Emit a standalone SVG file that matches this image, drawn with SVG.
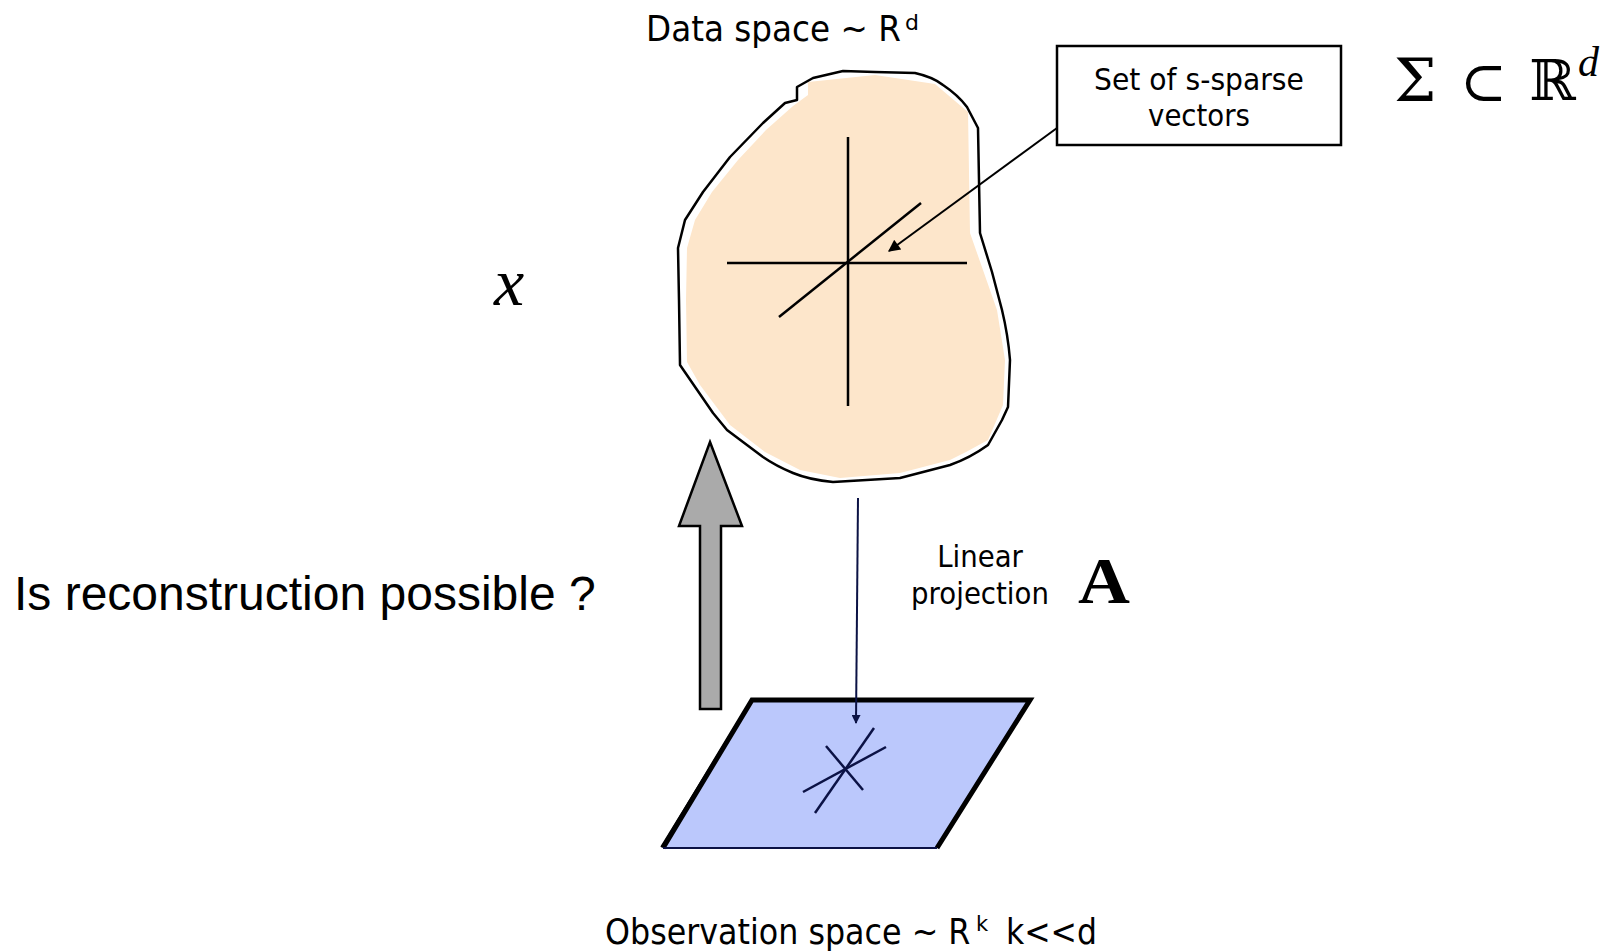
<svg xmlns="http://www.w3.org/2000/svg" width="1614" height="952" viewBox="0 0 1614 952">
<style>
.lbl{font-family:"DejaVu Sans","Liberation Sans",sans-serif;fill:#000}
.ar{font-family:"Liberation Sans",Arial,sans-serif;fill:#000}
.math{font-family:"DejaVu Serif","Liberation Serif",serif;fill:#000}
.ln{stroke:#000;stroke-width:2.5;fill:none;stroke-linejoin:round}
.nv{stroke:#0b1245;stroke-width:2.5;fill:none}
</style>
<defs>
<marker id="ah" viewBox="0 0 10 10" refX="9" refY="5" markerWidth="9" markerHeight="9" markerUnits="userSpaceOnUse" orient="auto"><path d="M0,0 L10,5 L0,10 z" fill="#0b1245"/></marker>
<marker id="ahk" viewBox="0 0 10 10" refX="9" refY="5" markerWidth="14" markerHeight="12" markerUnits="userSpaceOnUse" orient="auto"><path d="M0,0 L10,5 L0,10 z" fill="#000"/></marker>
</defs>
<rect width="1614" height="952" fill="#fff"/>

<g id="data-space">
<path d="M808,82 L875,75 L935,84 L968,112 L970,233 L997,310 L1005,360 L1003,405 L988,440 L966,452 L950,460 L900,473 L840,478 L800,470 L765,452 L730,425 L700,385 L687,362 L686,300 L687,248 L695,220 L712,192 L738,160 L766,130 L793,106 L808,95 Z" fill="#fde6cb"/>
<path d="M843,71 L875,72 L915,73 Q933,77 943,85 Q958,95 967,107 L978,128 L980,233 L992,272 L1002,310 Q1008,335 1010,360 L1008,407 L1002,420 L988,445 Q970,458 950,465 L900,478 L833,482 Q810,480 793,473 Q776,466 763,457 L727,430 L713,413 L680,365 L679,300 L678,248 L685,220 L703,192 L730,157 L763,123 L785,103 L797,100 L797,87 L813,78 Z" class="ln"/>
<line x1="848" y1="137" x2="848" y2="406" class="ln"/>
<line x1="727" y1="263" x2="967" y2="263" class="ln"/>
<line x1="779" y1="317" x2="921" y2="203" class="ln"/>
<text class="lbl" font-size="36" transform="matrix(0.907,0,0,1,646,41)">Data space ~ R</text>
<text class="lbl" font-size="22" x="905" y="30">d</text>
</g>

<g id="sparse-box">
<rect x="1057" y="46" width="284" height="99" fill="#fff" stroke="#000" stroke-width="2.5"/>
<text class="lbl" font-size="31" text-anchor="middle" transform="matrix(0.91,0,0,1,1199,90)">Set of s-sparse</text>
<text class="lbl" font-size="31" text-anchor="middle" transform="matrix(0.89,0,0,1,1199,126)">vectors</text>
</g>

<g id="sigma-label">
<text class="math" font-size="60" x="1394" y="101">Σ</text>
<text class="math" font-size="56" x="1460" y="101">⊂</text>
<text class="math" font-size="56" x="1529" y="100">ℝ</text>
<text x="1578" y="76" font-size="42" font-style="italic" font-family="Liberation Serif,serif">d</text>
</g>

<g id="x-label">
<text x="494" y="305" font-size="68" font-style="italic" font-family="Liberation Serif,serif">x</text>
</g>

<g id="observation-space">
<polygon points="752,700 1030,700 937,848 663,848" fill="#bbc8fc"/>
<polyline points="663,848 752,700 1030,700 937,848" fill="none" stroke="#000" stroke-width="5" stroke-linejoin="miter"/>
<line x1="663" y1="848" x2="937" y2="848" stroke="#0b1245" stroke-width="2"/>
<line x1="661" y1="847" x2="750" y2="702" stroke="#000" stroke-width="1.5"/>
<line x1="803" y1="792" x2="886" y2="747" class="nv"/>
<line x1="815" y1="813" x2="874" y2="728" class="nv"/>
<line x1="826" y1="746" x2="863" y2="790" class="nv"/>
<text class="lbl" font-size="36" transform="matrix(0.882,0,0,1,605,944)">Observation space ~ R</text>
<text class="lbl" font-size="21" x="976" y="931">k</text>
<text class="lbl" font-size="36" transform="matrix(0.875,0,0,1,1006,944)">k&lt;&lt;d</text>
</g>

<g id="reconstruction">
<polygon points="710,442 742,526 721,526 721,709 700,709 700,526 679,526" fill="#aaaaaa" stroke="#000" stroke-width="2.5" stroke-linejoin="miter"/>
<text class="ar" x="14" y="610" font-size="48">Is reconstruction possible ?</text>
</g>

<g id="projection-label">
<text class="lbl" font-size="30" text-anchor="middle" transform="matrix(0.92,0,0,1,980,567)">Linear</text>
<text class="lbl" font-size="30" text-anchor="middle" transform="matrix(0.92,0,0,1,980,604)">projection</text>
<text font-size="66" font-weight="bold" font-family="Liberation Serif,serif" transform="matrix(1.09,0,0,1,1078,603)">A</text>
</g>

<g id="connectors">
<line x1="858" y1="498" x2="856" y2="723" stroke="#0b1245" stroke-width="2" marker-end="url(#ah)"/>
<line x1="1057" y1="128" x2="889" y2="251" stroke="#000" stroke-width="2" marker-end="url(#ahk)"/>
</g>
</svg>
